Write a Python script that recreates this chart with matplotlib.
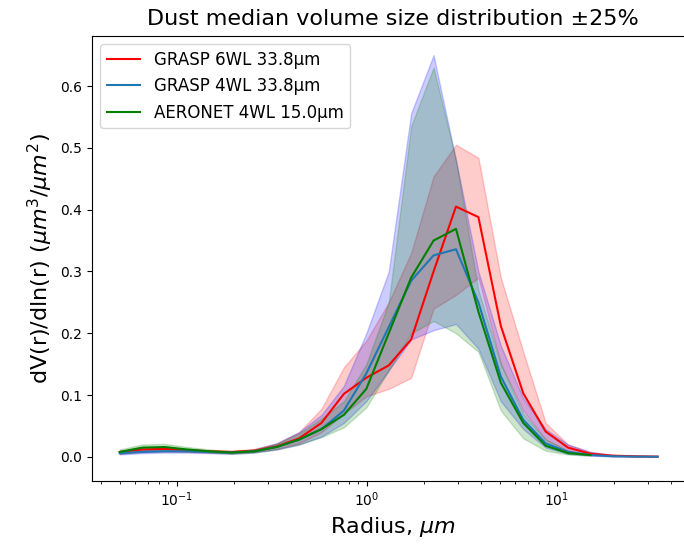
import numpy as np
import matplotlib
matplotlib.use("Agg")
import matplotlib.pyplot as plt

# radius bins (um)
r_aeronet = [0.05, 0.0656, 0.0861, 0.1129, 0.1482, 0.1944, 0.2551, 0.3347, 0.4392,
             0.5763, 0.7561, 0.9921, 1.3017, 1.708, 2.2411, 2.9406, 3.8584, 5.0626,
             6.6427, 8.7159, 11.4363, 15.0]
r_grasp = r_aeronet + [19.68, 25.82, 33.8]

# GRASP 6WL
g6_med = [0.008, 0.012, 0.013, 0.011, 0.009, 0.008, 0.010, 0.017, 0.030, 0.055, 0.102,
          0.128, 0.148, 0.190, 0.300, 0.405, 0.388, 0.212, 0.103, 0.041, 0.015, 0.005,
          0.002, 0.001, 0.0005]
g6_lo = [0.005, 0.008, 0.009, 0.008, 0.007, 0.006, 0.008, 0.013, 0.022, 0.040, 0.070,
         0.098, 0.110, 0.128, 0.240, 0.262, 0.290, 0.150, 0.075, 0.028, 0.010, 0.003,
         0.001, 0.0005, 0.0003]
g6_hi = [0.010, 0.015, 0.016, 0.013, 0.011, 0.010, 0.013, 0.022, 0.040, 0.078, 0.145,
         0.188, 0.250, 0.330, 0.454, 0.505, 0.484, 0.290, 0.170, 0.055, 0.020, 0.008,
         0.003, 0.0015, 0.0008]

# GRASP 4WL
g4_med = [0.006, 0.008, 0.009, 0.009, 0.008, 0.007, 0.009, 0.016, 0.028, 0.045, 0.075,
          0.135, 0.210, 0.285, 0.326, 0.336, 0.250, 0.130, 0.060, 0.022, 0.008, 0.003,
          0.001, 0.0005, 0.0003]
g4_lo = [0.004, 0.006, 0.007, 0.007, 0.006, 0.005, 0.007, 0.012, 0.020, 0.033, 0.055,
         0.090, 0.140, 0.190, 0.205, 0.215, 0.175, 0.090, 0.045, 0.015, 0.005, 0.002,
         0.0007, 0.0003, 0.0002]
g4_hi = [0.008, 0.011, 0.012, 0.011, 0.010, 0.009, 0.012, 0.022, 0.040, 0.068, 0.115,
         0.200, 0.300, 0.556, 0.650, 0.480, 0.300, 0.180, 0.095, 0.045, 0.020, 0.008,
         0.003, 0.0015, 0.0008]

# AERONET 4WL
ae_med = [0.008, 0.015, 0.016, 0.012, 0.009, 0.007, 0.009, 0.016, 0.028, 0.045, 0.068,
          0.110, 0.200, 0.290, 0.350, 0.369, 0.235, 0.120, 0.055, 0.018, 0.006, 0.003]
ae_lo = [0.005, 0.010, 0.011, 0.009, 0.007, 0.005, 0.007, 0.012, 0.020, 0.032, 0.048,
         0.080, 0.140, 0.200, 0.220, 0.200, 0.170, 0.075, 0.030, 0.010, 0.004, 0.002]
ae_hi = [0.012, 0.020, 0.021, 0.016, 0.012, 0.009, 0.012, 0.021, 0.038, 0.062, 0.090,
         0.150, 0.250, 0.535, 0.630, 0.480, 0.270, 0.150, 0.070, 0.028, 0.010, 0.004]

labels = ["GRASP 6WL 33.8µm", "GRASP 4WL 33.8µm", "AERONET 4WL 15.0µm"]

fig = plt.figure(figsize=(6.84, 5.45), dpi=100)
# the original picture is cropped on the right, so the axes run past the edge
ax = fig.add_axes([92 / 684, 64 / 545, 602 / 684, 445 / 545])

ax.plot(r_grasp, g6_med, color="red", label=labels[0])
ax.fill_between(r_grasp, g6_lo, g6_hi, color="red", alpha=0.2)
ax.plot(r_grasp, g4_med, color="C0", label=labels[1])
ax.fill_between(r_grasp, g4_lo, g4_hi, color="blue", alpha=0.2)
ax.plot(r_aeronet, ae_med, color="green", label=labels[2])
ax.fill_between(r_aeronet, ae_lo, ae_hi, color="green", alpha=0.2)

ax.set_xscale("log")
ax.set_xlim(10 ** -1.447, 10 ** 1.721)
ax.set_ylim(-0.039, 0.681)
ax.set_title("Dust median volume size distribution ±25%", fontsize=16, pad=8)
ax.set_xlabel(r"Radius, $\mu m$", fontsize=16)
ax.set_ylabel(r"dV(r)/dln(r) ($\mu m^3/\mu m^2$)", fontsize=16)
ax.legend(loc="upper left", fontsize=12)

fig.savefig("out.png", dpi=100)
